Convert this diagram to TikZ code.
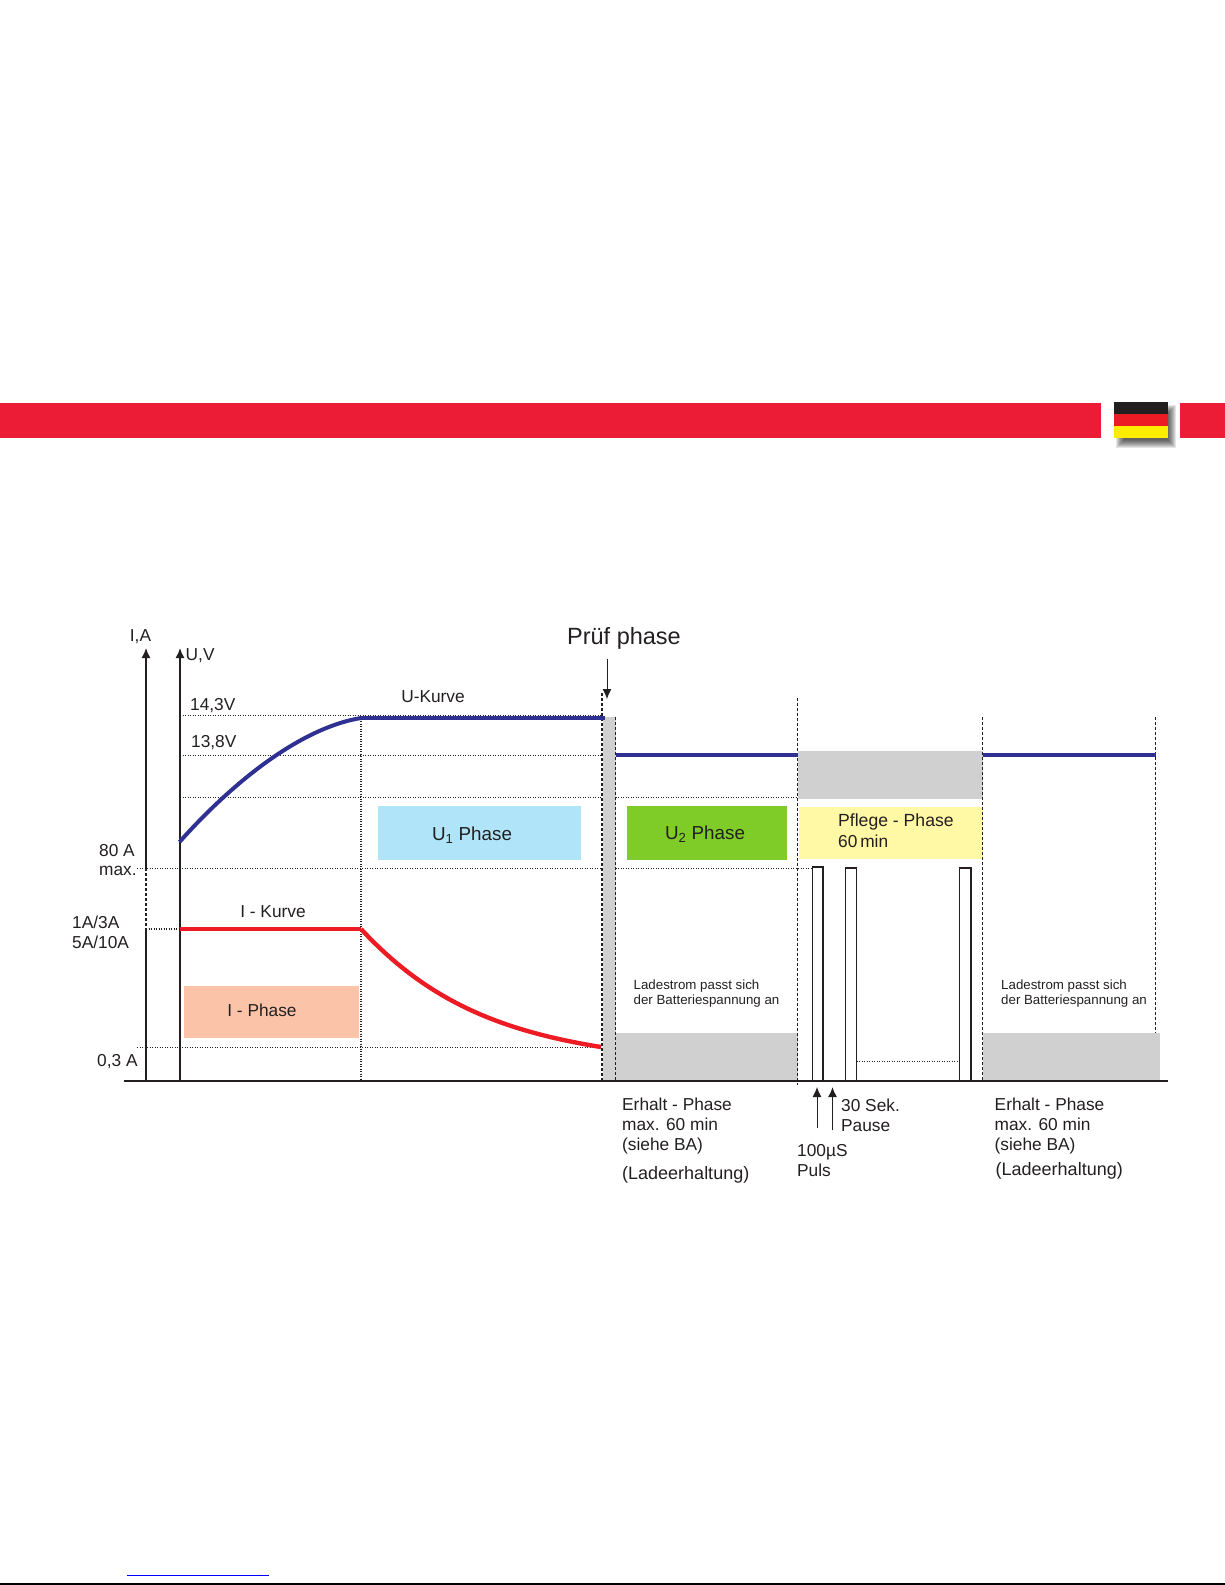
\documentclass[tikz,border=0pt]{standalone}
\usepackage{fontspec}
\setmainfont{Liberation Sans}
\usetikzlibrary{arrows.meta}
\definecolor{bandred}{HTML}{ED1C36}
\definecolor{curveblue}{HTML}{2E3192}
\definecolor{curvered}{HTML}{ED1C24}
\definecolor{inkblack}{HTML}{231F20}
\definecolor{blockgray}{HTML}{D0D0D0}
\definecolor{uonecol}{HTML}{AFE4F9}
\definecolor{utwocol}{HTML}{7FCC28}
\definecolor{ipeach}{HTML}{FBC4A8}
\definecolor{pflegecol}{HTML}{FFF8A5}
\tikzset{
	lbl/.style={text=inkblack, inner sep=0pt, font=\fontsize{17.3}{20}\selectfont},
	lblw/.style={lbl, anchor=west, align=left},
	small/.style={lblw, font=\fontsize{13.3}{15}\selectfont},
	boxtext/.style={lbl, font=\fontsize{18.8}{21}\selectfont},
	haltung/.style={lblw, font=\fontsize{18}{20}\selectfont},
	guide/.style={inkblack, line width=1.2pt, dash pattern=on 1.3pt off 1.2pt},
	cut/.style={inkblack, line width=1.3pt, dash pattern=on 3pt off 2pt},
	axis/.style={inkblack, line width=1.4pt},
	tip/.style={axis, -{Latex[length=10pt,width=9pt]}},
	phase/.style={lbl, minimum width=#1, minimum height=54pt},
	pulse/.style={inkblack, line width=1.6pt, fill=white},
	gblock/.style={fill=blockgray},
	ucurve/.style={curveblue, line width=4pt},
	icurve/.style={curvered, line width=4.4pt}
}
\begin{document}
\begin{tikzpicture}[x=1pt,y=-1pt]
		\useasboundingbox (0,0) rectangle (1225,1585);
		% top band and flag
		\fill [bandred] (0,403) rectangle (1101,438);
		\fill [bandred] (1180,403) rectangle (1225,438);
		\foreach \grow in {0,...,8} {
			\fill [black, opacity=0.1] (1116+\grow,405+\grow) rectangle (1176-\grow,448-\grow);
		}
		\fill [inkblack] (1114,402) rectangle (1168,414);
		\fill [curvered] (1114,414) rectangle (1168,426);
		\fill [yellow!95!orange] (1114,426) rectangle (1168,438);
		\draw [blue, line width=1pt] (127,1575.5) -- (269,1575.5);
		\draw [black, line width=1.5pt] (0,1584.2) -- (1225,1584.2);

		% positions
		\coordinate (ibot) at (146,1081);
		\coordinate (itop) at (146,648);
		\coordinate (ubot) at (180,1081);
		\coordinate (utop) at (180,648);
		\coordinate (mid) at (361,1081);
		\coordinate (pruefa) at (602,1081);
		\coordinate (pruefb) at (615.5,1081);
		\coordinate (pflegea) at (797.5,1081);
		\coordinate (pflegeb) at (982.5,1081);
		\coordinate (ende) at (1155.5,1081);

		% gray blocks
		\fill [gblock] (602.5,717) rectangle (pruefb);
		\fill [gblock] (pruefb |- 0,1033) rectangle (pflegea);
		\fill [gblock] (pflegea |- 0,751) rectangle (pflegeb |- 0,799);
		\fill [gblock] (pflegeb |- 0,1033) rectangle (1159.5,1081);

		% phase boxes
		\node at (479.5,833) [phase=203pt, fill=uonecol] (uone) {};
		\node at (271,1012) [phase=175pt, minimum height=52pt, fill=ipeach] (iphase) {};
		\node at (707,833) [phase=160.5pt, fill=utwocol] (utwo) {};
		\node at (890.75,833) [phase=183.5pt, minimum height=52.5pt, fill=pflegecol] (pflege) {};

		% guides
		\draw [guide] (ubot |- 0,715.3) -- (602,715.3);
		\foreach \level in {755.5,797.3} {
			\draw [guide] (ubot |- 0,\level) -- (602,\level);
		}
		\draw [guide] (pruefb |- 0,797.3) -- (pflegea |- 0,797.3);
		\draw [guide] (137,868.3) -- (602,868.3);
		\draw [guide] (pruefb |- 0,868.3) -- (812.5,868.3);
		\draw [guide] (ibot |- 0,929) -- (ubot |- 0,929);
		\draw [guide] (137,1047.5) -- (pruefa |- 0,1047.5);
		\draw [guide] (856.5,1061.5) -- (959.5,1061.5);
		\draw [guide] (mid |- 0,716) -- (mid);

		% dashed cuts
		\draw [cut] (pruefa |- 0,693) -- (pruefa);
		\draw [cut] (pruefb |- 0,717) -- (pruefb);
		\draw [cut] (pflegea |- 0,698) -- (797.5,1085);
		\draw [cut] (pflegeb |- 0,717) -- (pflegeb);
		\draw [cut] (ende |- 0,717) -- (1155.5,1033);
		\draw [cut] (ibot |- 0,868.3) -- (ibot |- 0,929);

		% pulses
		\foreach \left/\right/\head in {812.5/823/866.8,845.5/856.5/868,959.5/971/868} {
			\draw [pulse] (\left,1081) -- (\left,\head) -- (\right,\head) -- (\right,1081);
		}

		% axes
		\draw [axis, line width=1.8pt] (123.5,1081) -- (1167.5,1081);
		\draw [tip] (ibot |- 0,868.3) -- (itop);
		\draw [axis] (ibot) -- (ibot |- 0,929);
		\draw [tip] (ubot) -- (utop);

		% curves
		\draw [ucurve] (179.5,842) .. controls (232,783) and (300,728) .. (361,718);
		\draw [ucurve] (361,718) -- (605,718);
		\draw [ucurve] (pruefb |- 0,755) -- (pflegea |- 0,755);
		\draw [ucurve] (pflegeb |- 0,755) -- (ende |- 0,755);
		\draw [icurve] (ubot |- 0,929) -- (361,929);
		\draw [icurve] (361,929) .. controls (425,998) and (495,1030) .. (601,1047);

		% arrows to the axis and the check phase
		\node at (624,638) [lbl, font=\fontsize{23.5}{26}\selectfont] (pruef) {Prüf phase};
		\draw [tip, line width=1pt] (607,659) -- (607,699);
		\draw [tip, line width=1pt] (817,1128) -- (817,1087);
		\draw [tip] (832.5,1130) -- (832.5,1087);

		% labels
		\node at (140.5,637) [lbl] (ialabel) {I,A};
		\node at (185.5,656) [lblw] (uvlabel) {U,V};
		\node at (190,706) [lblw] (volta) {14,3V};
		\node at (191,743) [lblw] (voltb) {13,8V};
		\node at (433,697) [lbl] (ukurve) {U-Kurve};
		\node at (273,912) [lbl] (ikurve) {I - Kurve};
		\node at (99,851) [lblw] (maxa) {80 A};
		\node at (99,871) [lblw] (maxb) {max.};
		\node at (72,922) [lblw] (rangea) {1A/3A};
		\node at (72,942) [lblw] (rangeb) {5A/10A};
		\node at (97,1062) [lblw] (minamp) {0,3 A};
		\node at (472,835) [boxtext] (uonetext) {U\textsubscript{1} Phase};
		\node at (262,1010) [lbl] (iphasetext) {I - Phase};
		\node at (705,834) [boxtext] (utwotext) {U\textsubscript{2} Phase};
		\node at (838,822) [lblw, font=\fontsize{17.6}{20}\selectfont] (pflegetext) {Pflege - Phase};
		\node at (838,841.5) [lblw] (pflegemin) {60\,min};
		\node at (633.5,986) [small] (ladea) {Ladestrom passt sich};
		\node at (633.5,1001) [small] (ladeb) {der Batteriespannung an};
		\node at (1001,986) [small] (ladec) {Ladestrom passt sich};
		\node at (1001,1001) [small] (laded) {der Batteriespannung an};
		\node at (622,1126) [lblw] (erhalta) {Erhalt - Phase\\max. 60 min\\(siehe BA)};
		\node at (622,1175) [haltung] (haltunga) {(Ladeerhaltung)};
		\node at (994.5,1126) [lblw] (erhaltb) {Erhalt - Phase\\max. 60 min\\(siehe BA)};
		\node at (995.5,1171) [haltung] (haltungb) {(Ladeerhaltung)};
		\node at (841,1115) [lblw] (pause) {30 Sek.\\Pause};
		\node at (797,1160.5) [lblw] (puls) {100µS\\Puls};
		\end{tikzpicture}
\end{document}
